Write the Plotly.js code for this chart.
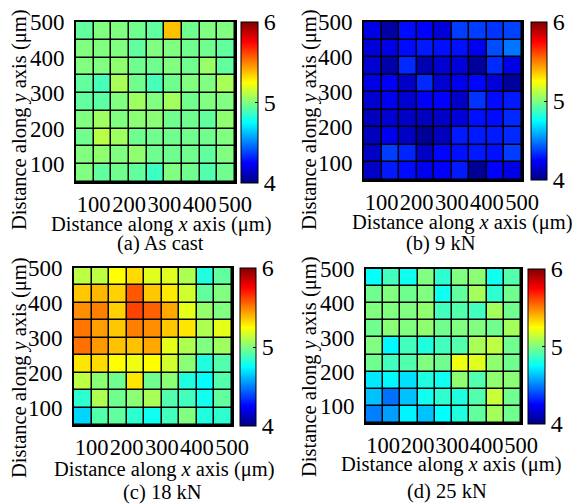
<!DOCTYPE html>
<html>
<head>
<meta charset="utf-8">
<script src="https://cdn.plot.ly/plotly-3.0.1.min.js"></script>
<style>html,body{margin:0;padding:0;background:#fff;}#chart{width:577px;height:504px;}</style>
</head>
<body>
<div id="chart"></div>
<script>
// Cell edges (µm)
const xEdges = [50, 100, 150, 200, 250, 300, 350, 400, 450, 500];
const yEdges = [50, 100, 150, 200, 250, 300, 350, 400, 450, 500];
const xTicks = [100, 200, 300, 400, 500];
const yTicks = [100, 200, 300, 400, 500];
const cbTicks = [4, 5, 6];
const panelCaptions = ["(a) As cast", "(b) 9 kN", "(c) 18 kN", "(d) 25 kN"];

// Values, rows listed from top (y = 500) to bottom (y = 50)
const zAsCast = [
  [4.94, 5.00, 5.00, 4.97, 4.94, 5.37, 4.97, 5.00, 5.00],
  [5.00, 5.00, 5.00, 4.94, 5.00, 5.00, 4.97, 4.97, 4.94],
  [5.00, 5.00, 5.03, 4.97, 4.97, 5.00, 4.97, 5.05, 4.94],
  [4.94, 4.89, 5.08, 4.97, 4.89, 4.97, 5.00, 5.00, 5.08],
  [4.94, 4.93, 5.00, 5.06, 5.00, 5.07, 4.97, 5.00, 5.00],
  [5.00, 5.06, 5.00, 5.02, 5.02, 4.97, 4.97, 4.94, 5.03],
  [4.97, 5.11, 5.06, 4.97, 4.97, 4.97, 4.97, 4.97, 5.00],
  [5.00, 5.03, 5.00, 5.03, 4.97, 4.97, 4.97, 4.94, 5.00],
  [5.00, 4.94, 4.97, 4.94, 4.87, 5.00, 4.97, 4.91, 4.97]
];
const z9kN = [
  [4.20, 4.07, 4.27, 4.25, 4.17, 4.37, 4.37, 4.35, 4.38],
  [4.18, 4.20, 4.27, 4.30, 4.28, 4.28, 4.22, 4.40, 4.48],
  [4.16, 4.08, 4.33, 4.10, 4.16, 4.18, 4.06, 4.33, 4.20],
  [4.20, 4.24, 4.14, 4.33, 4.16, 4.22, 4.26, 4.18, 4.06],
  [4.16, 4.22, 4.16, 4.24, 4.25, 4.14, 4.35, 4.27, 4.30],
  [4.12, 4.16, 4.14, 4.12, 4.14, 4.18, 4.28, 4.27, 4.33],
  [4.12, 4.22, 4.14, 4.05, 4.12, 4.30, 4.30, 4.30, 4.33],
  [4.14, 4.37, 4.32, 4.14, 4.26, 4.28, 4.30, 4.28, 4.37],
  [4.14, 4.30, 4.27, 4.22, 4.25, 4.30, 4.04, 4.25, 4.20]
];
const z18kN = [
  [5.12, 5.12, 5.25, 5.32, 5.19, 5.19, 5.09, 4.81, 4.94],
  [5.36, 5.39, 5.34, 5.58, 5.36, 5.29, 5.16, 4.94, 5.00],
  [5.47, 5.50, 5.34, 5.62, 5.56, 5.42, 5.20, 5.04, 5.00],
  [5.52, 5.44, 5.36, 5.50, 5.47, 5.36, 5.30, 5.09, 5.20],
  [5.53, 5.45, 5.37, 5.37, 5.42, 5.20, 5.09, 5.00, 5.06],
  [5.30, 5.32, 5.25, 5.22, 5.25, 5.16, 5.02, 4.81, 4.91],
  [5.12, 5.02, 4.97, 5.30, 4.97, 5.02, 4.81, 4.75, 4.91],
  [4.84, 5.09, 4.97, 5.02, 5.08, 4.91, 4.88, 4.78, 4.94],
  [4.67, 4.91, 4.94, 4.84, 4.78, 4.88, 5.00, 4.81, 4.84]
];
const z25kN = [
  [4.76, 4.88, 4.78, 5.00, 4.84, 5.00, 5.02, 4.78, 4.91],
  [4.97, 5.00, 4.97, 5.00, 4.78, 4.94, 5.07, 4.84, 4.97],
  [5.00, 5.00, 5.00, 5.03, 4.88, 4.91, 4.88, 5.07, 4.97],
  [4.97, 5.02, 5.00, 5.03, 4.97, 5.00, 5.00, 4.97, 5.07],
  [5.00, 4.74, 4.88, 4.81, 4.88, 4.91, 5.08, 5.12, 4.97],
  [4.97, 4.88, 4.91, 5.00, 4.97, 5.22, 5.19, 5.03, 4.97],
  [4.71, 4.74, 4.69, 4.81, 4.78, 5.03, 4.91, 5.03, 5.02],
  [4.63, 4.47, 4.63, 4.78, 4.84, 4.81, 4.91, 5.14, 4.97],
  [4.50, 4.56, 4.73, 4.63, 4.75, 4.81, 4.94, 5.07, 4.97]
];

const W = 577, H = 504;
const FONT = "Liberation Serif";
const jet = [[0,'#000080'],[0.125,'#0000ff'],[0.375,'#00ffff'],[0.625,'#ffff00'],[0.875,'#ff0000'],[1,'#800000']];

// pixel boxes: plot [x0,x1,y0,y1], colorbar [x0,width,y0,y1]
const panels = [
  {z: zAsCast, plot:[76,235,22,182], cb:[241,17,22,183], ytitle:[19,120], xtitle:[161,224], cap:[160,243]},
  {z: z9kN,    plot:[364,522,22,180], cb:[531,16,22,180], ytitle:[309,120], xtitle:[462,222], cap:[441,243]},
  {z: z18kN,   plot:[74,232,268,425], cb:[240,16,268,426], ytitle:[19,368], xtitle:[165,469], cap:[162,492]},
  {z: z25kN,   plot:[366,521,269,423], cb:[528,17,269,424], ytitle:[309,367], xtitle:[451,464], cap:[447,491]}
];

const fx = p => p / W;
const fy = p => 1 - p / H;

const data = [];
const layout = {
  width: W, height: H,
  margin: {l:0, r:0, t:0, b:0},
  paper_bgcolor: '#ffffff',
  plot_bgcolor: '#000000',
  showlegend: false,
  font: {family: FONT, color: '#000', size: 20},
  annotations: []
};

panels.forEach((p, i) => {
  const n = i === 0 ? '' : String(i + 1);
  data.push({
    type: 'heatmap',
    x: xEdges, y: yEdges,
    z: p.z.slice().reverse(),
    xaxis: 'x' + n, yaxis: 'y' + n,
    zmin: 4, zmax: 6,
    colorscale: jet,
    xgap: 1.5, ygap: 1.5,
    hoverinfo: 'none',
    colorbar: {
      x: fx(p.cb[0]), xanchor: 'left', xpad: 0,
      y: fy(p.cb[2]), yanchor: 'top', ypad: 0,
      len: (p.cb[3] - p.cb[2]) / H, lenmode: 'fraction',
      thickness: p.cb[1], thicknessmode: 'pixels',
      outlinewidth: 1, outlinecolor: '#000',
      tickvals: cbTicks, ticktext: cbTicks.map(String),
      ticks: 'inside', ticklen: 3, tickcolor: '#000',
      tickfont: {family: FONT, size: 24, color: '#000'}
    }
  });
  layout['xaxis' + n] = {
    domain: [fx(p.plot[0]), fx(p.plot[1])],
    anchor: 'y' + n,
    range: [50, 500], autorange: false,
    tickvals: xTicks, ticktext: xTicks.map(String), tickangle: 0,
    ticks: '', showgrid: false, zeroline: false,
    showline: true, linewidth: 2, linecolor: '#000', mirror: true,
    tickfont: {family: FONT, size: 22.5, color: '#000'},
    ticklabelstandoff: 1
  };
  layout['yaxis' + n] = {
    domain: [fy(p.plot[3]), fy(p.plot[2])],
    anchor: 'x' + n,
    range: [50, 500], autorange: false,
    tickvals: yTicks, ticktext: yTicks.map(String),
    ticks: '', showgrid: false, zeroline: false,
    showline: true, linewidth: 2, linecolor: '#000', mirror: true,
    tickfont: {family: FONT, size: 23, color: '#000'},
    ticklabelstandoff: 5
  };
  layout.annotations.push({
    xref: 'paper', yref: 'paper', x: fx(p.ytitle[0]), y: fy(p.ytitle[1]),
    xanchor: 'center', yanchor: 'middle', textangle: -90, showarrow: false,
    text: 'Distance along <i>y</i> axis (μm)', font: {family: FONT, size: 20.5, color: '#000'}
  });
  layout.annotations.push({
    xref: 'paper', yref: 'paper', x: fx(p.xtitle[0]), y: fy(p.xtitle[1]),
    xanchor: 'center', yanchor: 'middle', showarrow: false,
    text: 'Distance along <i>x</i> axis (μm)', font: {family: FONT, size: 20.5, color: '#000'}
  });
  layout.annotations.push({
    xref: 'paper', yref: 'paper', x: fx(p.cap[0]), y: fy(p.cap[1]),
    xanchor: 'center', yanchor: 'middle', showarrow: false,
    text: panelCaptions[i], font: {family: FONT, size: 20.5, color: '#000'}
  });
});

Plotly.newPlot('chart', data, layout, {staticPlot: true});
</script>
</body>
</html>
